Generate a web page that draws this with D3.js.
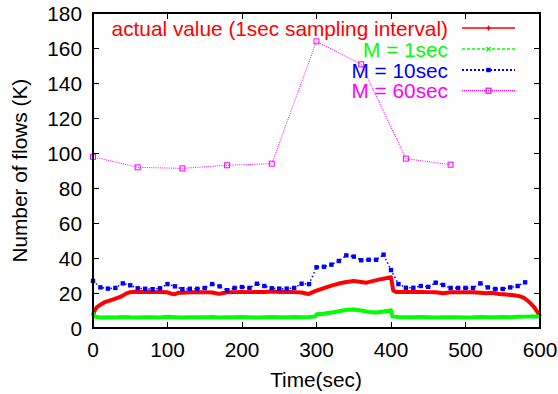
<!DOCTYPE html>
<html>
<head>
<meta charset="utf-8">
<script src="https://cdn.jsdelivr.net/npm/d3@7"></script>
<style>
  html, body { margin: 0; padding: 0; background: #fff; }
  svg { display: block; }
  text { font-family: "Liberation Sans", Arial, Helvetica, sans-serif; }
</style>
</head>
<body>
<svg id="chart" width="558" height="394"></svg>
<script>
// ---- data ----
const xTicks = [0, 100, 200, 300, 400, 500, 600];
const yTicks = [0, 20, 40, 60, 80, 100, 120, 140, 160, 180];

const legendLabels = ["actual value (1sec sampling interval)", "M = 1sec", "M = 10sec", "M = 60sec"];
const seriesColors = ["#ff0000", "#00ff00", "#0000ff", "#ff00ff"];

// actual value (1 sec sampling), sampled readings
const actualTime = [0, 2, 5, 10, 15, 20, 25, 30, 35, 40, 45, 50, 55, 60, 70, 80, 90, 100, 105, 110, 115, 120, 130, 140, 150, 160, 169, 175, 180, 190, 200, 210, 220, 230, 240, 250, 260, 270, 280, 289, 295, 300, 310, 320, 330, 340, 350, 360, 367, 375, 385, 395, 400, 403, 407, 420, 430, 440, 450, 460, 470, 480, 490, 500, 510, 520, 528, 535, 545, 555, 565, 572, 578, 583, 588, 592, 596, 600];
const actualValue = [7.2, 10, 11.8, 13.3, 14.6, 15.4, 16, 16.8, 17.5, 18.5, 19.8, 20.5, 20.7, 20.6, 20.7, 20.5, 20.6, 20.4, 19.6, 19.3, 20.2, 20.2, 20.4, 20.5, 20.5, 20.3, 19.5, 20, 20.4, 20.5, 20.6, 20.5, 20.6, 20.6, 20.8, 20.6, 20.7, 20.5, 20.3, 19.4, 20.5, 21.3, 22.8, 24.2, 25.4, 26.3, 26.8, 26.3, 25.9, 26.8, 27.8, 28.6, 29, 21.5, 20.6, 20.6, 20.6, 20.6, 20.5, 20.4, 19.8, 20.4, 20.5, 20.5, 20.4, 20.2, 19.8, 20.1, 19.4, 19.1, 18.7, 18.2, 17.3, 15.8, 13.8, 12, 9.5, 6.5];

// M = 1sec
const m1Time = [0, 2, 10, 20, 30, 40, 50, 60, 70, 80, 90, 100, 110, 120, 130, 140, 150, 160, 170, 180, 190, 200, 210, 220, 230, 240, 250, 260, 270, 280, 290, 298, 300, 310, 320, 330, 340, 350, 360, 370, 380, 390, 400, 402, 410, 420, 430, 440, 450, 460, 470, 480, 490, 500, 510, 520, 530, 540, 550, 560, 570, 580, 590, 600];
const m1Value = [8.8, 6.5, 6.0, 6.2, 6.0, 6.3, 6.1, 6.0, 6.2, 6.1, 6.0, 6.4, 6.2, 6.0, 6.1, 6.2, 6.1, 6.3, 6.0, 6.2, 6.1, 6.3, 6.2, 6.0, 6.2, 6.3, 6.1, 6.2, 6.3, 6.2, 6.3, 6.5, 7.8, 8.2, 8.8, 9.6, 10.4, 10.6, 10.0, 9.2, 8.8, 9.4, 10.1, 6.5, 6.3, 6.2, 6.1, 6.3, 6.2, 6.0, 6.2, 6.1, 6.2, 6.0, 6.1, 6.3, 6.2, 6.1, 6.3, 6.2, 6.4, 6.5, 6.6, 6.6];

// M = 10sec
const m10Time = d3.range(0, 590, 10);
const m10Value = [26.9, 23.2, 22.5, 22.9, 25.5, 24.4, 22.7, 22.4, 22.2, 22.7, 25.1, 23.8, 22.2, 22.4, 22.4, 22.9, 25.1, 23.8, 21.6, 22.9, 23.4, 22.9, 25.3, 24.0, 22.7, 22.5, 22.5, 22.9, 25.3, 25.1, 34.7, 35.0, 36.2, 38.3, 41.5, 40.8, 38.7, 39.0, 39.0, 41.9, 33.1, 25.1, 23.0, 23.0, 24.0, 23.5, 25.9, 24.6, 22.9, 22.9, 22.9, 22.9, 25.5, 23.2, 22.3, 22.3, 23.2, 24.0, 26.1];

// M = 60sec
const m60Time = [0, 60, 120, 180, 240, 300, 360, 420, 480];
const m60Value = [97.8, 91.8, 91.2, 93.0, 93.9, 163.8, 150.7, 96.8, 93.3];

// ---- layout ----
const svg = d3.select("#chart");
const x = d3.scaleLinear().domain([0, 600]).range([93, 540]);
const y = d3.scaleLinear().domain([0, 180]).range([328, 13]);
const FS = 20.8;

const zip = (ts, vs) => ts.map((t, i) => [t, vs[i]]);
const line = d3.line().x(d => x(d[0])).y(d => y(d[1]));

const plot = svg.append("g");

// actual value
plot.append("path").datum(zip(actualTime, actualValue))
  .attr("d", line).attr("fill", "none").attr("stroke", seriesColors[0])
  .attr("stroke-width", 4).attr("stroke-linejoin", "round");

// M = 1sec
plot.append("path").datum(zip(m1Time, m1Value))
  .attr("d", line).attr("fill", "none").attr("stroke", seriesColors[1])
  .attr("stroke-width", 4).attr("stroke-linejoin", "round");

// M = 10sec
const m10 = zip(m10Time, m10Value);
plot.append("path").datum(m10)
  .attr("d", line).attr("fill", "none").attr("stroke", seriesColors[2])
  .attr("stroke-width", 1.5).attr("stroke-dasharray", "1.5,2.5");
plot.selectAll(".m10pt").data(m10).enter().append("rect")
  .attr("x", d => x(d[0]) - 2.2).attr("y", d => y(d[1]) - 2.2)
  .attr("width", 4.4).attr("height", 4.4).attr("fill", seriesColors[2]);

// M = 60sec
const m60 = zip(m60Time, m60Value);
plot.append("path").datum(m60)
  .attr("d", line).attr("fill", "none").attr("stroke", seriesColors[3])
  .attr("stroke-width", 1).attr("stroke-dasharray", "1,1.2");
plot.selectAll(".m60pt").data(m60).enter().append("rect")
  .attr("x", d => x(d[0]) - 2.5).attr("y", d => y(d[1]) - 2.5)
  .attr("width", 5).attr("height", 5).attr("fill", "none")
  .attr("stroke", seriesColors[3]).attr("stroke-width", 1);

// ---- axes / frame ----
const x0 = x.range()[0], x1 = x.range()[1], y0 = y.range()[0], y1 = y.range()[1];
const tl = 6;
const axisG = svg.append("g").attr("stroke", "#000").attr("stroke-width", 1).attr("shape-rendering", "crispEdges");
xTicks.forEach(t => {
  axisG.append("line").attr("x1", x(t)).attr("x2", x(t)).attr("y1", y0).attr("y2", y0 - tl);
  axisG.append("line").attr("x1", x(t)).attr("x2", x(t)).attr("y1", y1).attr("y2", y1 + tl);
});
yTicks.forEach(t => {
  axisG.append("line").attr("x1", x0).attr("x2", x0 + tl).attr("y1", y(t)).attr("y2", y(t));
  axisG.append("line").attr("x1", x1).attr("x2", x1 - tl).attr("y1", y(t)).attr("y2", y(t));
});
axisG.append("rect").attr("x", x0).attr("y", y1).attr("width", x1 - x0).attr("height", y0 - y1)
  .attr("fill", "none").attr("stroke-width", 1.3);

// tick labels
svg.append("g").selectAll("text").data(xTicks).enter().append("text")
  .attr("x", d => x(d)).attr("y", 357).attr("text-anchor", "middle")
  .attr("font-size", FS).attr("fill", "#000").text(d => d);
svg.append("g").selectAll("text").data(yTicks).enter().append("text")
  .attr("x", 82).attr("y", d => y(d) + 7.5).attr("text-anchor", "end")
  .attr("font-size", FS).attr("fill", "#000").text(d => d);

// axis titles
svg.append("text").attr("x", 316).attr("y", 386.5).attr("text-anchor", "middle")
  .attr("font-size", FS).attr("fill", "#000").text("Time(sec)");
svg.append("text").attr("transform", "translate(27,170.7) rotate(-90)")
  .attr("text-anchor", "middle").attr("font-size", FS).attr("fill", "#000")
  .text("Number of flows (K)");

// ---- legend ----
const rowsY = [28, 49, 70, 90.7];
const lg = svg.append("g");
legendLabels.forEach((lab, i) => {
  lg.append("text").attr("x", 448).attr("y", rowsY[i] + 7.5).attr("text-anchor", "end")
    .attr("font-size", FS).attr("fill", seriesColors[i]).text(lab);
});
const sx0 = 462, sx1 = 515, sm = 488.5;
// red solid with +
lg.append("line").attr("x1", sx0).attr("x2", sx1).attr("y1", rowsY[0]).attr("y2", rowsY[0])
  .attr("stroke", seriesColors[0]).attr("stroke-width", 1.3);
lg.append("path").attr("d", `M${sm - 2},${rowsY[0]}H${sm + 2}M${sm},${rowsY[0] - 2.5}V${rowsY[0] + 2.5}`)
  .attr("stroke", seriesColors[0]).attr("stroke-width", 1.5);
// green dashed with x
lg.append("line").attr("x1", sx0).attr("x2", sx1).attr("y1", rowsY[1]).attr("y2", rowsY[1])
  .attr("stroke", seriesColors[1]).attr("stroke-width", 1.3).attr("stroke-dasharray", "3,2");
lg.append("path").attr("d", `M${sm - 2},${rowsY[1] - 2}L${sm + 2},${rowsY[1] + 2}M${sm - 2},${rowsY[1] + 2}L${sm + 2},${rowsY[1] - 2}`)
  .attr("stroke", seriesColors[1]).attr("stroke-width", 1.3);
// blue dotted with filled square
lg.append("line").attr("x1", sx0).attr("x2", sx1).attr("y1", rowsY[2]).attr("y2", rowsY[2])
  .attr("stroke", seriesColors[2]).attr("stroke-width", 1.8).attr("stroke-dasharray", "2,2");
lg.append("rect").attr("x", sm - 2.2).attr("y", rowsY[2] - 2.2).attr("width", 4.4).attr("height", 4.4)
  .attr("fill", seriesColors[2]);
// magenta dotted with open square
lg.append("line").attr("x1", sx0).attr("x2", sx1).attr("y1", rowsY[3]).attr("y2", rowsY[3])
  .attr("stroke", seriesColors[3]).attr("stroke-width", 1.2).attr("stroke-dasharray", "1,1");
lg.append("rect").attr("x", sm - 2.5).attr("y", rowsY[3] - 2.5).attr("width", 5).attr("height", 5)
  .attr("fill", "none").attr("stroke", seriesColors[3]).attr("stroke-width", 1.2);
</script>
</body>
</html>
